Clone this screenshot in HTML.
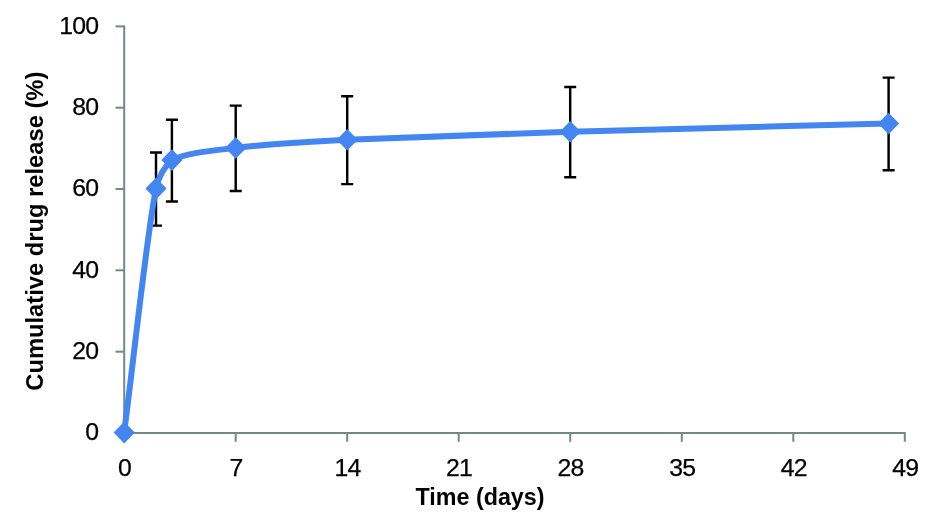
<!DOCTYPE html>
<html><head><meta charset="utf-8"><title>Cumulative drug release</title>
<style>html,body{margin:0;padding:0;background:#fff;overflow:hidden}svg{display:block}text{font-family:"Liberation Sans",sans-serif;fill:#000}</style></head><body>
<svg width="933" height="527" viewBox="0 0 933 527">
<rect width="933" height="527" fill="#fff"/>
<g stroke="#728989" stroke-width="2" fill="none">
<line x1="124.2" y1="25.4" x2="124.2" y2="434.0"/>
<line x1="123.2" y1="433.0" x2="905.8" y2="433.0"/>
<line x1="115.5" y1="433.0" x2="124.2" y2="433.0"/>
<line x1="115.5" y1="351.7" x2="124.2" y2="351.7"/>
<line x1="115.5" y1="270.3" x2="124.2" y2="270.3"/>
<line x1="115.5" y1="189.0" x2="124.2" y2="189.0"/>
<line x1="115.5" y1="107.7" x2="124.2" y2="107.7"/>
<line x1="115.5" y1="26.4" x2="124.2" y2="26.4"/>
<line x1="124.2" y1="433.0" x2="124.2" y2="441.8"/>
<line x1="235.7" y1="433.0" x2="235.7" y2="441.8"/>
<line x1="347.2" y1="433.0" x2="347.2" y2="441.8"/>
<line x1="458.7" y1="433.0" x2="458.7" y2="441.8"/>
<line x1="570.2" y1="433.0" x2="570.2" y2="441.8"/>
<line x1="681.8" y1="433.0" x2="681.8" y2="441.8"/>
<line x1="793.3" y1="433.0" x2="793.3" y2="441.8"/>
<line x1="904.8" y1="433.0" x2="904.8" y2="441.8"/>
</g>
<g font-size="24.8" letter-spacing="-0.8" stroke="#000" stroke-width="0.25">
<text x="98.2" y="440.4" text-anchor="end">0</text>
<text x="98.2" y="359.1" text-anchor="end">20</text>
<text x="98.2" y="277.7" text-anchor="end">40</text>
<text x="98.2" y="196.4" text-anchor="end">60</text>
<text x="98.2" y="115.1" text-anchor="end">80</text>
<text x="98.2" y="33.8" text-anchor="end">100</text>
<text x="124.6" y="475.5" text-anchor="middle">0</text>
<text x="236.1" y="475.5" text-anchor="middle">7</text>
<text x="347.6" y="475.5" text-anchor="middle">14</text>
<text x="459.1" y="475.5" text-anchor="middle">21</text>
<text x="570.6" y="475.5" text-anchor="middle">28</text>
<text x="682.2" y="475.5" text-anchor="middle">35</text>
<text x="793.7" y="475.5" text-anchor="middle">42</text>
<text x="905.2" y="475.5" text-anchor="middle">49</text>
</g>
<text x="480" y="505.3" text-anchor="middle" font-size="23" font-weight="bold" textLength="129" lengthAdjust="spacingAndGlyphs">Time (days)</text>
<text transform="translate(42.9,231.2) rotate(-90)" text-anchor="middle" font-size="23" font-weight="bold" textLength="319" lengthAdjust="spacingAndGlyphs">Cumulative drug release (%)</text>
<g stroke="#000" stroke-width="2.45" fill="none">
<path d="M156.0,152.4 V225.6 M150.0,152.4 H162.0 M150.0,225.6 H162.0"/>
<path d="M171.9,119.7 V201.4 M165.9,119.7 H177.9 M165.9,201.4 H177.9"/>
<path d="M235.7,105.6 V191.0 M229.7,105.6 H241.7 M229.7,191.0 H241.7"/>
<path d="M347.2,96.3 V184.1 M341.2,96.3 H353.2 M341.2,184.1 H353.2"/>
<path d="M570.2,86.9 V177.2 M564.2,86.9 H576.2 M564.2,177.2 H576.2"/>
<path d="M888.6,77.6 V170.3 M882.6,77.6 H894.6 M882.6,170.3 H894.6"/>
</g>
<path d="M124.15,432.60 C134.77,351.27 146.81,233.69 156.01,188.61 C158.41,176.85 163.77,167.50 171.94,160.14 C185.22,153.37 206.46,151.33 235.67,147.95 C264.88,144.56 291.43,142.52 347.19,139.81 C402.95,137.10 480.01,134.39 570.24,131.68 C660.46,128.97 782.46,126.26 888.57,123.55" stroke="#4386f1" stroke-width="6" fill="none" stroke-linejoin="round" stroke-linecap="round"/>
<path d="M124.2,421.8 L134.8,432.6 L124.2,443.4 L113.6,432.6 Z" fill="#4386f1"/>
<path d="M156.0,177.8 L166.6,188.6 L156.0,199.4 L145.4,188.6 Z" fill="#4386f1"/>
<path d="M171.9,149.3 L182.5,160.1 L171.9,170.9 L161.3,160.1 Z" fill="#4386f1"/>
<path d="M235.7,137.1 L246.3,147.9 L235.7,158.7 L225.1,147.9 Z" fill="#4386f1"/>
<path d="M347.2,129.0 L357.8,139.8 L347.2,150.6 L336.6,139.8 Z" fill="#4386f1"/>
<path d="M570.2,120.9 L580.8,131.7 L570.2,142.5 L559.6,131.7 Z" fill="#4386f1"/>
<path d="M888.6,112.7 L899.2,123.5 L888.6,134.3 L878.0,123.5 Z" fill="#4386f1"/>
</svg></body></html>
